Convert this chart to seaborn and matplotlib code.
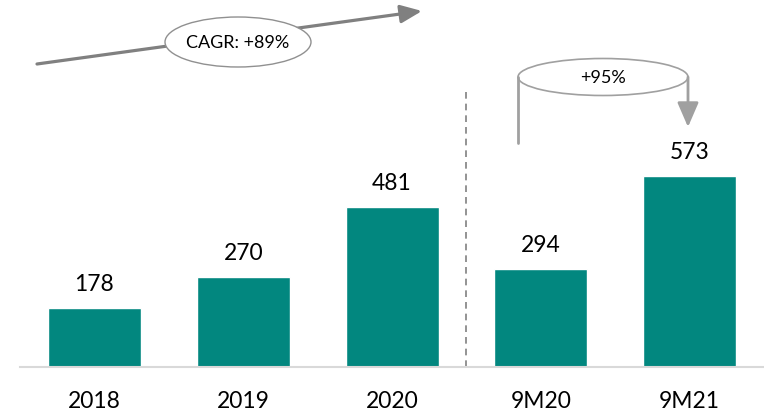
import matplotlib
matplotlib.use("Agg")
import matplotlib.pyplot as plt
import seaborn as sns
import pandas as pd
from matplotlib.patches import Ellipse, FancyArrowPatch
from matplotlib.lines import Line2D

categories = ["2018", "2019", "2020", "9M20", "9M21"]
values = [178, 270, 481, 294, 573]
cagr_label = "CAGR: +89%"
growth_label = "+95%"

sns.set_style("white")
plt.rcParams["font.family"] = ["Lato", "DejaVu Sans"]

W, H = 764, 417
fig = plt.figure(figsize=(W / 100, H / 100), dpi=100)
ax = fig.add_axes([20 / W, 50 / H, (764 - 20) / W, 367 / H])

df = pd.DataFrame({"cat": categories, "val": values})
sns.barplot(data=df, x="cat", y="val", color="#02877F", saturation=1, width=0.625, ax=ax)
ax.set_xlim(-0.5, 4.5)
ax.set_ylim(0, 1100)

for sp in ["top", "right", "left"]:
    ax.spines[sp].set_visible(False)
ax.spines["bottom"].set_color("#d9d9d9")
ax.spines["bottom"].set_linewidth(1.5)
ax.set_yticks([])
ax.set_xlabel("")
ax.set_ylabel("")
ax.tick_params(axis="x", length=0, pad=17, labelsize=16.5, colors="black")

for i, v in enumerate(values):
    ax.annotate(str(v), (i, v), xytext=(0, 9), textcoords="offset points",
                ha="center", va="bottom", fontsize=16.5, color="black")

# dashed separator
ax.plot([2.5, 2.5], [0, (367 - 88) / 367 * 1100], color="#808080",
        linestyle=(0, (4, 3)), linewidth=1.2, clip_on=False)

def px(x, y):
    return (x / W, 1 - y / H)

# CAGR arrow
arr = FancyArrowPatch(px(37, 64), px(422, 11), transform=fig.transFigure,
                      arrowstyle="-|>,head_length=13,head_width=5.5", color="#808080",
                      linewidth=2.3, mutation_scale=1, shrinkA=0, shrinkB=0)
fig.add_artist(arr)
ell = Ellipse(px(238, 42), 146 / W, 50 / H, transform=fig.transFigure,
              facecolor="white", edgecolor="#909090", linewidth=1)
fig.add_artist(ell)
fig.text(*px(238, 43), cagr_label, ha="center", va="center", fontsize=13, color="black")

# +95% annotation
fig.add_artist(Line2D([518 / W, 518 / W], [1 - 143 / H, 1 - 77 / H],
                      transform=fig.transFigure, color="#a0a0a0", linewidth=2))
ell2 = Ellipse(px(603, 77), 170 / W, 37 / H, transform=fig.transFigure,
               facecolor="white", edgecolor="#a0a0a0", linewidth=1.2)
fig.add_artist(ell2)
arr2 = FancyArrowPatch(px(688, 77), px(688, 127), transform=fig.transFigure,
                       arrowstyle="-|>,head_length=15,head_width=6.5", color="#a0a0a0",
                       linewidth=2, mutation_scale=1, shrinkA=0, shrinkB=0)
fig.add_artist(arr2)
fig.text(*px(603, 78), growth_label, ha="center", va="center", fontsize=13, color="black")

fig.savefig("out.png", dpi=100, facecolor="white")
